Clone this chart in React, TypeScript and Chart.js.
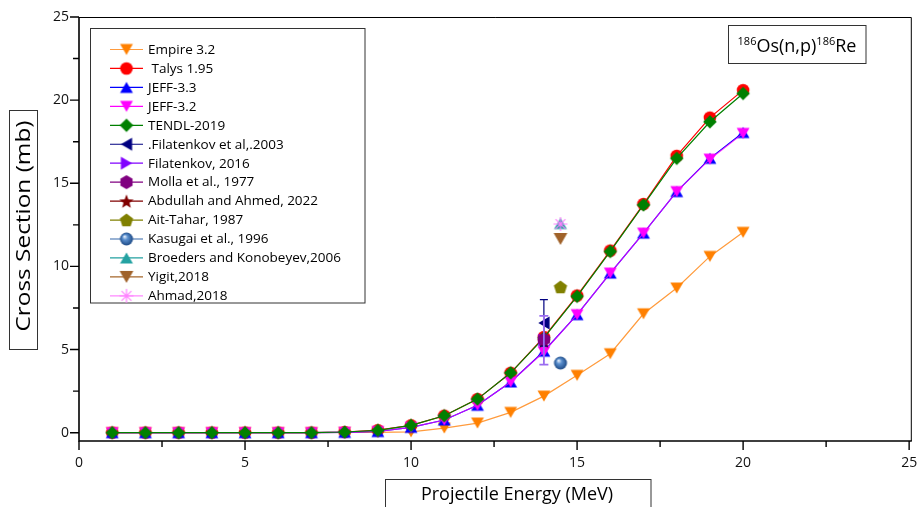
import React, { useEffect, useRef } from 'react';
import { Chart, registerables } from 'chart.js';

Chart.register(...registerables);

// ---------- data ----------
const energies = [1, 2, 3, 4, 5, 6, 7, 8, 9, 10, 11, 12, 13, 14, 15, 16, 17, 18, 19, 20];
const empire32 = [0, 0, 0, 0, 0, 0, 0, 0.01, 0.02, 0.05, 0.28, 0.58, 1.22, 2.2, 3.45, 4.75, 7.15, 8.7, 10.6, 12.05];
const talys195 = [0, 0, 0, 0, 0, 0, 0, 0.04, 0.15, 0.44, 1.02, 2.02, 3.6, 5.75, 8.25, 10.95, 13.75, 16.65, 18.95, 20.6];
const jeff33 = [0, 0, 0, 0, 0, 0, 0, 0.02, 0.07, 0.32, 0.76, 1.65, 3.05, 4.9, 7.1, 9.6, 12.0, 14.5, 16.5, 18.05];
const jeff32 = [0, 0, 0, 0, 0, 0, 0, 0.02, 0.07, 0.32, 0.76, 1.65, 3.05, 4.87, 7.1, 9.6, 12.0, 14.5, 16.45, 18.0];
const tendl2019 = [0, 0, 0, 0, 0, 0, 0, 0.04, 0.14, 0.44, 1.02, 2.02, 3.6, 5.7, 8.2, 10.9, 13.7, 16.5, 18.7, 20.4];

const filatenkov2003X = [14.0];
const filatenkov2003Y = [6.6];
const filatenkov2003Err = [1.4];
const filatenkov2016X = [14.0];
const filatenkov2016Y = [5.56];
const filatenkov2016Err = [1.47];
const molla1977X = [14.0];
const molla1977Y = [5.6];
const abdullah2022X = [14.0];
const abdullah2022Y = [5.5];
const aitTahar1987X = [14.5];
const aitTahar1987Y = [8.76];
const kasugai1996X = [14.5];
const kasugai1996Y = [4.19];
const broeders2006X = [14.5];
const broeders2006Y = [12.58];
const yigit2018X = [14.5];
const yigit2018Y = [11.65];
const ahmad2018X = [14.5];
const ahmad2018Y = [12.55];

const xTicks = [0, 5, 10, 15, 20, 25];
const yTicks = [0, 5, 10, 15, 20, 25];

const FONT = '"Open Sans", "Noto Sans", sans-serif';

// ---------- markers ----------
function makeMarker(shape: string, color: string, r: number): HTMLCanvasElement {
  const S = 20;
  const c = document.createElement('canvas');
  c.width = S;
  c.height = S;
  const g = c.getContext('2d') as CanvasRenderingContext2D;
  const cx = S / 2;
  const cy = S / 2;
  g.fillStyle = color;
  g.strokeStyle = color;
  g.lineWidth = 1;
  g.beginPath();
  if (shape === 'circle') {
    g.arc(cx, cy, r, 0, Math.PI * 2);
    g.fill();
  } else if (shape === 'triDown') {
    const w = r * 0.92;
    const h = r * 0.8;
    g.moveTo(cx - w, cy - h);
    g.lineTo(cx + w, cy - h);
    g.lineTo(cx, cy + h);
    g.closePath();
    g.fill();
  } else if (shape === 'triUp') {
    const w = r * 0.92;
    const h = r * 0.8;
    g.moveTo(cx - w, cy + h);
    g.lineTo(cx + w, cy + h);
    g.lineTo(cx, cy - h);
    g.closePath();
    g.fill();
  } else if (shape === 'triLeft') {
    const w = r * 0.92;
    const h = r * 0.8;
    g.moveTo(cx + h, cy - w);
    g.lineTo(cx + h, cy + w);
    g.lineTo(cx - h, cy);
    g.closePath();
    g.fill();
  } else if (shape === 'triRight') {
    const w = r * 0.92;
    const h = r * 0.8;
    g.moveTo(cx - h, cy - w);
    g.lineTo(cx - h, cy + w);
    g.lineTo(cx + h, cy);
    g.closePath();
    g.fill();
  } else if (shape === 'diamond') {
    g.moveTo(cx, cy - r);
    g.lineTo(cx + r, cy);
    g.lineTo(cx, cy + r);
    g.lineTo(cx - r, cy);
    g.closePath();
    g.fill();
  } else if (shape === 'hexagon') {
    for (let i = 0; i < 6; i++) {
      const a = (Math.PI / 3) * i + Math.PI / 6;
      const px = cx + r * Math.cos(a);
      const py = cy + r * Math.sin(a);
      if (i === 0) g.moveTo(px, py);
      else g.lineTo(px, py);
    }
    g.closePath();
    g.fill();
  } else if (shape === 'pentagon') {
    for (let i = 0; i < 5; i++) {
      const a = -Math.PI / 2 + ((Math.PI * 2) / 5) * i;
      const px = cx + r * Math.cos(a);
      const py = cy + 0.6 + r * Math.sin(a);
      if (i === 0) g.moveTo(px, py);
      else g.lineTo(px, py);
    }
    g.closePath();
    g.fill();
  } else if (shape === 'star') {
    for (let i = 0; i < 10; i++) {
      const a = -Math.PI / 2 + (Math.PI / 5) * i;
      const rr = i % 2 === 0 ? r : r * 0.42;
      const px = cx + rr * Math.cos(a);
      const py = cy + 0.8 + rr * Math.sin(a);
      if (i === 0) g.moveTo(px, py);
      else g.lineTo(px, py);
    }
    g.closePath();
    g.fill();
  } else if (shape === 'sphere') {
    const grad = g.createRadialGradient(cx - 2, cy - 2.5, 0.5, cx, cy, r);
    grad.addColorStop(0, '#dce8f7');
    grad.addColorStop(0.35, '#5a8fce');
    grad.addColorStop(1, '#1d4a86');
    g.fillStyle = grad;
    g.arc(cx, cy, r, 0, Math.PI * 2);
    g.fill();
  } else if (shape === 'asterisk') {
    g.lineWidth = 1.2;
    for (let i = 0; i < 4; i++) {
      const a = (Math.PI / 4) * i;
      g.moveTo(cx - r * Math.cos(a), cy - r * Math.sin(a));
      g.lineTo(cx + r * Math.cos(a), cy + r * Math.sin(a));
    }
    g.stroke();
  }
  return c;
}

function pts(xs: number[], ys: number[]) {
  return xs.map((x, i) => ({ x, y: ys[i] }));
}

export default function App() {
  const canvasRef = useRef<HTMLCanvasElement | null>(null);

  useEffect(() => {
    const canvas = canvasRef.current;
    if (!canvas) return;

    const series = [
      { label: 'Empire 3.2', line: '#FF9B3D', marker: makeMarker('triDown', '#FF8000', 7), data: pts(energies, empire32), showLine: true, rank: 0 },
      { label: ' Talys 1.95', line: '#FF0000', marker: makeMarker('circle', '#FF0000', 6.3), data: pts(energies, talys195), showLine: true, rank: 1 },
      { label: 'JEFF-3.3', line: '#0000FF', marker: makeMarker('triUp', '#0000FF', 7), data: pts(energies, jeff33), showLine: true, rank: 2 },
      { label: 'JEFF-3.2', line: 'rgba(255,0,255,0.72)', legendLine: '#FF00FF', marker: makeMarker('triDown', '#FF00FF', 7), data: pts(energies, jeff32), showLine: true, rank: 3 },
      { label: 'TENDL-2019', line: '#008000', marker: makeMarker('diamond', '#008000', 6.8), data: pts(energies, tendl2019), showLine: true, rank: 4 },
      { label: '.Filatenkov et al,.2003', line: '#000080', marker: makeMarker('triLeft', '#000080', 7), data: pts(filatenkov2003X, filatenkov2003Y), showLine: false, rank: 8 },
      { label: 'Filatenkov, 2016', line: '#8000FF', marker: makeMarker('triRight', '#8000FF', 7), data: pts(filatenkov2016X, filatenkov2016Y), showLine: false, rank: 5 },
      { label: 'Molla et al., 1977', line: '#800080', marker: makeMarker('hexagon', '#800080', 7), data: pts(molla1977X, molla1977Y), showLine: false, rank: 7 },
      { label: 'Abdullah and Ahmed, 2022', line: '#800000', marker: makeMarker('star', '#800000', 7.5), data: pts(abdullah2022X, abdullah2022Y), showLine: false, rank: 6 },
      { label: 'Ait-Tahar, 1987', line: '#808000', marker: makeMarker('pentagon', '#808000', 7), data: pts(aitTahar1987X, aitTahar1987Y), showLine: false, rank: 9 },
      { label: 'Kasugai et al., 1996', line: '#3366AA', marker: makeMarker('sphere', '#3366AA', 6.5), data: pts(kasugai1996X, kasugai1996Y), showLine: false, rank: 10 },
      { label: 'Broeders and Konobeyev,2006', line: '#22A0A0', marker: makeMarker('triUp', '#24A2A2', 7), data: pts(broeders2006X, broeders2006Y), showLine: false, rank: 11 },
      { label: 'Yigit,2018', line: '#A5662A', marker: makeMarker('triDown', '#A0622A', 7.5), data: pts(yigit2018X, yigit2018Y), showLine: false, rank: 12 },
      { label: 'Ahmad,2018', line: '#FF88FF', marker: makeMarker('asterisk', '#FF80FF', 7), data: pts(ahmad2018X, ahmad2018Y), showLine: false, rank: 13 },
    ];

    const errorBars = [
      { index: 5, err: filatenkov2003Err, color: '#000080', width: 1.2, cap: 4 },
      { index: 6, err: filatenkov2016Err, color: '#9A6CF0', width: 1.8, cap: 4.5 },
    ];

    const decor = {
      id: 'decor',
      beforeDraw(chart: any) {
        const ctx = chart.ctx;
        ctx.save();
        ctx.fillStyle = '#ffffff';
        ctx.fillRect(0, 0, chart.width, chart.height);
        ctx.restore();
      },
      afterDatasetsDraw(chart: any) {
        const ctx = chart.ctx;
        const ys = chart.scales.y;
        ctx.save();
        errorBars.forEach((eb) => {
          const meta = chart.getDatasetMeta(eb.index);
          meta.data.forEach((el: any, i: number) => {
            const val = series[eb.index].data[i].y;
            const x = el.x;
            const yTop = ys.getPixelForValue(val + eb.err[i]);
            const yBot = ys.getPixelForValue(val - eb.err[i]);
            ctx.strokeStyle = eb.color;
            ctx.lineWidth = eb.width;
            ctx.beginPath();
            ctx.moveTo(x, yTop);
            ctx.lineTo(x, yBot);
            ctx.moveTo(x - eb.cap, yTop);
            ctx.lineTo(x + eb.cap, yTop);
            ctx.moveTo(x - eb.cap, yBot);
            ctx.lineTo(x + eb.cap, yBot);
            ctx.stroke();
          });
        });
        ctx.restore();
      },
      afterDraw(chart: any) {
        const ctx = chart.ctx;
        const ca = chart.chartArea;
        const xs = chart.scales.x;
        const ys = chart.scales.y;
        ctx.save();
        // frame top/right
        ctx.strokeStyle = '#000';
        ctx.lineWidth = 1;
        ctx.beginPath();
        ctx.moveTo(ca.left, ca.top + 0.5);
        ctx.lineTo(ca.right + 0.5, ca.top + 0.5);
        ctx.lineTo(ca.right + 0.5, ca.bottom);
        ctx.stroke();
        // axes
        ctx.lineWidth = 1.6;
        ctx.beginPath();
        ctx.moveTo(ca.left, ca.top);
        ctx.lineTo(ca.left, ca.bottom);
        ctx.lineTo(ca.right + 1, ca.bottom);
        ctx.stroke();
        // ticks
        ctx.lineWidth = 1.4;
        ctx.beginPath();
        for (let v = 0; v <= 25.001; v += 2.5) {
          const major = Math.abs(v % 5) < 1e-6;
          const len = major ? 9 : 6;
          const px = xs.getPixelForValue(v);
          ctx.moveTo(px, ca.bottom);
          ctx.lineTo(px, ca.bottom + len);
          const py = ys.getPixelForValue(v);
          ctx.moveTo(ca.left, py);
          ctx.lineTo(ca.left - len, py);
        }
        ctx.stroke();

        // tick labels
        ctx.fillStyle = '#111';
        ctx.font = `14px ${FONT}`;
        ctx.textBaseline = 'middle';
        ctx.textAlign = 'center';
        xTicks.forEach((v) => {
          const txt = String(v);
          const w = ctx.measureText(txt).width;
          let px = xs.getPixelForValue(v);
          px = Math.min(px, chart.width - 1 - w / 2);
          ctx.fillText(txt, px, ca.bottom + 22);
        });
        ctx.textAlign = 'right';
        yTicks.forEach((v) => {
          ctx.fillText(String(v), ca.left - 10, ys.getPixelForValue(v));
        });

        // legend
        ctx.strokeStyle = '#333';
        ctx.lineWidth = 1;
        ctx.strokeRect(90.5, 28.5, 274.5, 274.5);
        ctx.font = `13.5px ${FONT}`;
        ctx.textBaseline = 'middle';
        ctx.textAlign = 'left';
        series.forEach((s: any, i: number) => {
          const y = 49.5 + i * 18.95;
          ctx.strokeStyle = s.legendLine || s.line;
          ctx.lineWidth = 1.2;
          ctx.beginPath();
          ctx.moveTo(110, y);
          ctx.lineTo(143, y);
          ctx.stroke();
          ctx.drawImage(s.marker, 126.5 - 10, y - 10);
          ctx.fillStyle = '#000';
          ctx.fillText(s.label, 148, y + 0.5);
        });

        // reaction box
        ctx.strokeStyle = '#333';
        ctx.lineWidth = 1;
        ctx.strokeRect(728.5, 25.5, 137.5, 38);
        const partsT = [
          { t: '186', sup: true },
          { t: 'Os(n,p)', sup: false },
          { t: '186', sup: true },
          { t: 'Re', sup: false },
        ];
        let total = 0;
        const widths = partsT.map((p) => {
          ctx.font = p.sup ? `11px ${FONT}` : `18px ${FONT}`;
          const w = ctx.measureText(p.t).width;
          total += w;
          return w;
        });
        let tx = 797 - total / 2;
        ctx.textBaseline = 'alphabetic';
        ctx.fillStyle = '#000';
        partsT.forEach((p, i) => {
          ctx.font = p.sup ? `11px ${FONT}` : `18px ${FONT}`;
          ctx.fillText(p.t, tx, p.sup ? 45 : 52);
          tx += widths[i];
        });

        // y axis title
        ctx.strokeRect(9.5, 110.5, 28, 239);
        ctx.save();
        ctx.translate(24, 226);
        ctx.rotate(-Math.PI / 2);
        ctx.scale(1.22, 1);
        ctx.font = `20px ${FONT}`;
        ctx.textAlign = 'center';
        ctx.textBaseline = 'middle';
        ctx.fillText('Cross Section (mb)', 0, 0);
        ctx.restore();

        // x axis title
        ctx.strokeRect(385.5, 479.5, 265.5, 40);
        ctx.font = `18px ${FONT}`;
        ctx.textAlign = 'center';
        ctx.textBaseline = 'alphabetic';
        ctx.fillText('Projectile Energy (MeV)', 517, 500);
        ctx.restore();
      },
    };

    const chart = new Chart(canvas, {
      type: 'scatter',
      data: {
        datasets: series.map((s) => ({
          label: s.label,
          data: s.data,
          showLine: s.showLine,
          borderColor: s.line,
          backgroundColor: s.line,
          borderWidth: 1.2,
          pointStyle: s.marker as any,
          pointRadius: 7,
          pointHoverRadius: 7,
          order: 100 - s.rank,
          tension: 0,
        })),
      },
      options: {
        animation: false,
        responsive: false,
        devicePixelRatio: 1,
        events: [],
        layout: { padding: { top: 17, right: 5, left: 0, bottom: 0 } },
        plugins: {
          legend: { display: false },
          tooltip: { enabled: false },
          title: { display: false },
        },
        scales: {
          x: {
            type: 'linear',
            min: 0,
            max: 25.05,
            afterBuildTicks: (s: any) => {
              s.ticks = xTicks.map((v) => ({ value: v }));
            },
            afterFit: (s: any) => {
              s.height = 66;
            },
            grid: { display: false, drawTicks: false },
            border: { display: false },
            ticks: { display: false },
          },
          y: {
            type: 'linear',
            min: -0.5,
            max: 25,
            afterBuildTicks: (s: any) => {
              s.ticks = yTicks.map((v) => ({ value: v }));
            },
            afterFit: (s: any) => {
              s.width = 79;
            },
            grid: { display: false, drawTicks: false },
            border: { display: false },
            ticks: { display: false },
          },
        },
      },
      plugins: [decor],
    });

    return () => {
      chart.destroy();
    };
  }, []);

  return (
    <div style={{ position: 'absolute', left: 0, top: 0, width: 919, height: 507, background: '#fff' }}>
      <canvas ref={canvasRef} width={919} height={507} style={{ display: 'block', width: 919, height: 507 }} />
    </div>
  );
}
